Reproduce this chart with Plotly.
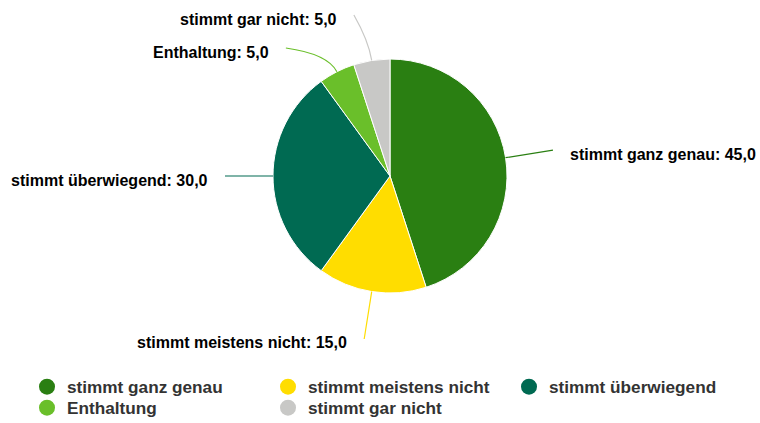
import math
import plotly.graph_objects as go

categories = ["stimmt ganz genau", "stimmt meistens nicht", "stimmt überwiegend", "Enthaltung", "stimmt gar nicht"]
values = [45.0, 15.0, 30.0, 5.0, 5.0]
colors = ["#2a7f12", "#ffdd00", "#006a52", "#6abf2a", "#c8c8c6"]

W, H = 760, 423
cx, cy, R = 390, 176, 117
RL = 165          # connector end radius
GAP = 33          # minimum vertical spacing of labels
YMIN = 15
PAD = 15

fig = go.Figure()
fig.add_trace(go.Pie(
    labels=categories, values=values, sort=False, direction="clockwise", rotation=0,
    marker=dict(colors=colors, line=dict(color="#ffffff", width=1)),
    textinfo="none", showlegend=False, hoverinfo="label+value",
    domain=dict(x=[(cx - R) / W, (cx + R) / W], y=[(H - cy - R) / H, (H - cy + R) / H]),
))

# legend entries as circles, three per row
for i, (c, col) in enumerate(zip(categories, colors)):
    fig.add_trace(go.Scatter(x=[None], y=[None], mode="markers", name=c,
                             legend="legend" if i < 3 else "legend2",
                             marker=dict(symbol="circle", size=16, color=col)))

total = sum(values)
cum = 0
items = []
for c, v, col in zip(categories, values, colors):
    a = (cum + v / 2) / total * 2 * math.pi
    cum += v
    side = 1 if math.sin(a) > 0 else -1
    items.append(dict(c=c, v=v, col=col, a=a, side=side, y=cy - RL * math.cos(a)))

shapes, annotations = [], []
for side in (1, -1):
    grp = sorted([it for it in items if it["side"] == side], key=lambda it: it["y"])
    prev = None
    for it in grp:
        y = max(it["y"], YMIN) if prev is None else max(it["y"], prev + GAP)
        it["y"] = y
        prev = y
for it in items:
    a = it["a"]
    ye = it["y"]
    dy = ye - cy
    xe = cx + it["side"] * math.sqrt(max(RL ** 2 - dy ** 2, 0))
    x0, y0 = cx + R * math.sin(a), cy - R * math.cos(a)
    qx, qy = cx + (R + 20) * math.sin(a), cy - (R + 20) * math.cos(a)
    shapes.append(dict(type="path", xref="x", yref="y",
                       path=f"M {x0:.2f},{y0:.2f} Q {qx:.2f},{qy:.2f} {xe:.2f},{ye:.2f}",
                       line=dict(color=it["col"], width=1.2)))
    txt = f"<b>{it['c']}: {it['v']:.1f}</b>".replace(".", ",")
    annotations.append(dict(x=xe + it["side"] * PAD, y=ye + 4, xref="x", yref="y", text=txt,
                            showarrow=False, xanchor="left" if it["side"] > 0 else "right",
                            yanchor="middle",
                            font=dict(family="Liberation Sans", size=16, color="#000000")))

legfont = dict(family="Liberation Sans", size=17.2, color="#333333", weight="bold")
common = dict(orientation="h", xanchor="left", yanchor="middle",
              entrywidth=196, entrywidthmode="pixels", itemsizing="trace",
              font=legfont, bgcolor="rgba(0,0,0,0)", borderwidth=0)
fig.update_layout(
    width=W, height=H, margin=dict(l=0, r=0, t=0, b=0, autoexpand=False),
    paper_bgcolor="#ffffff", plot_bgcolor="rgba(0,0,0,0)",
    xaxis=dict(range=[0, W], visible=False, fixedrange=True, domain=[0, 1]),
    yaxis=dict(range=[H, 0], visible=False, fixedrange=True, domain=[0, 1]),
    shapes=shapes, annotations=annotations,
    legend=dict(x=27 / W, y=1 - 387 / H, **common),
    legend2=dict(x=27 / W, y=1 - 408 / H, **common),
    showlegend=True,
)
fig.write_html("out.html", config={"displayModeBar": False},
               post_script="document.body.style.margin='0';document.body.style.overflow='hidden';")
